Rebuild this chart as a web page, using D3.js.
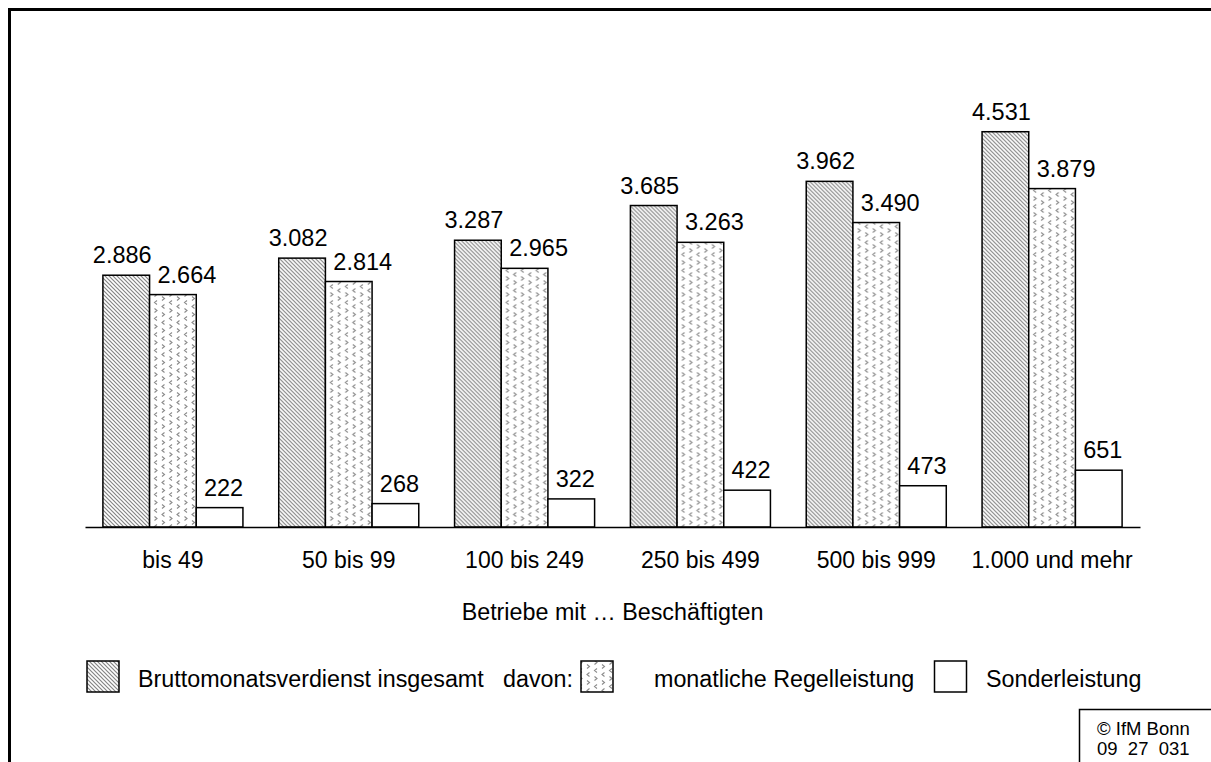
<!DOCTYPE html>
<html>
<head>
<meta charset="utf-8">
<script src="https://cdn.jsdelivr.net/npm/d3@7"></script>
<style>
  html, body { margin: 0; padding: 0; background: #fff; overflow: hidden; }
  svg { display: block; }
  text { font-family: Arial, "Liberation Sans", sans-serif; fill: #000; }
</style>
</head>
<body>
<script>
// ---- data ----
const categories = ["bis 49", "50 bis 99", "100 bis 249", "250 bis 499", "500 bis 999", "1.000 und mehr"];
const seriesNames = ["Bruttomonatsverdienst insgesamt", "monatliche Regelleistung", "Sonderleistung"];
const brutto = [2886, 3082, 3287, 3685, 3962, 4531];
const regel  = [2664, 2814, 2965, 3263, 3490, 3879];
const sonder = [222, 268, 322, 422, 473, 651];
const xTitle = "Betriebe mit \u2026 Beschäftigten";
const legendMid = "davon:";
const creditLines = ["© IfM Bonn", "09  27  031"];

// ---- setup ----
const W = 1211, H = 762;
const svg = d3.select("body").append("svg").attr("width", W).attr("height", H);
const defs = svg.append("defs");

// hatch pattern
const hatch = defs.append("pattern").attr("id", "hatch").attr("patternUnits", "userSpaceOnUse")
  .attr("width", 4).attr("height", 4);
hatch.append("rect").attr("width", 4).attr("height", 4).attr("fill", "#fff");
hatch.append("path").attr("d", "M-1,-1 L5,5 M-1,3 L1,5 M3,-1 L5,1")
  .attr("stroke", "#858585").attr("stroke-width", 1.2);

// chevron pattern
const conf = defs.append("pattern").attr("id", "conf").attr("patternUnits", "userSpaceOnUse")
  .attr("width", 15).attr("height", 16);
conf.append("rect").attr("width", 15).attr("height", 16).attr("fill", "#fff");
const cg = conf.append("g").attr("fill", "none").attr("stroke", "#8a8a8a").attr("stroke-width", 1.1);
cg.append("path").attr("d", "M4.5,0.5 L2,2.5 L4.5,4.5");       // <
cg.append("path").attr("d", "M9.5,4.5 L12,6.5 L9.5,8.5");      // >
cg.append("path").attr("d", "M2,8.5 L4.5,10.5 L2,12.5");       // >
cg.append("path").attr("d", "M12,12.5 L9.5,14.5 L12,16.5");    // <
cg.append("path").attr("d", "M12,-3.5 L9.5,-1.5 L12,0.5");     // wrap

const fills = ["url(#hatch)", "url(#conf)", "#fff"];

// outer frame
svg.append("rect").attr("x", 9.5).attr("y", 9.5).attr("width", 1400).attr("height", 1000)
  .attr("fill", "none").attr("stroke", "#000").attr("stroke-width", 3);

// scales
const x0 = d3.scaleBand().domain(categories).range([85, 1140]).paddingInner(0).paddingOuter(0);
const inset = 17.9;
const x1 = d3.scaleBand().domain(d3.range(3)).range([inset, x0.bandwidth() - inset]).padding(0);
const y = d3.scaleLinear().domain([0, 5000]).range([527, 527 - 5000 * 0.08724]);

const de = d3.formatLocale({ decimal: ",", thousands: ".", grouping: [3], currency: ["", "€"] });
const fmt = de.format(",d");

const seriesVals = [brutto, regel, sonder];
const labelDx = [-4, 14, 4];

const data = categories.map((c, i) => ({ cat: c, vals: seriesVals.map(s => s[i]) }));

const groups = svg.append("g").selectAll("g").data(data).join("g")
  .attr("transform", d => `translate(${x0(d.cat)},0)`);

groups.selectAll("rect").data(d => d.vals.map((v, k) => ({ v, k }))).join("rect")
  .attr("x", d => x1(d.k))
  .attr("y", d => y(d.v))
  .attr("width", x1.bandwidth())
  .attr("height", d => y(0) - y(d.v))
  .attr("fill", d => fills[d.k])
  .attr("stroke", "#000").attr("stroke-width", 1.5);

groups.selectAll("text.val").data(d => d.vals.map((v, k) => ({ v, k }))).join("text")
  .attr("class", "val")
  .attr("x", d => x1(d.k) + x1.bandwidth() / 2 + labelDx[d.k])
  .attr("y", d => y(d.v) - 12)
  .attr("text-anchor", "middle")
  .attr("font-size", 23.5)
  .text(d => fmt(d.v));

// x axis
const axis = svg.append("g").attr("transform", `translate(0,${y(0)})`)
  .call(d3.axisBottom(x0).tickSize(0).tickSizeOuter(0));
axis.select(".domain").attr("stroke", "#000").attr("stroke-width", 1.5);
axis.selectAll(".tick text").attr("y", 41).attr("dy", null)
  .attr("font-size", 23).attr("font-family", "Arial, 'Liberation Sans', sans-serif").attr("fill", "#000");

svg.append("text").attr("x", (85 + 1140) / 2).attr("y", 620).attr("text-anchor", "middle")
  .attr("font-size", 23.3).text(xTitle);

// legend
const lg = svg.append("g");
const sw = [
  { x: 87, fill: fills[0] },
  { x: 581, fill: fills[1] },
  { x: 934.5, fill: fills[2] }
];
lg.selectAll("rect").data(sw).join("rect")
  .attr("x", d => d.x).attr("y", 661).attr("width", 32).attr("height", 31)
  .attr("fill", d => d.fill).attr("stroke", "#000").attr("stroke-width", 1.5);
const lt = [
  { x: 138, t: seriesNames[0] },
  { x: 503, t: legendMid },
  { x: 654, t: seriesNames[1] },
  { x: 986, t: seriesNames[2] }
];
lg.selectAll("text").data(lt).join("text")
  .attr("x", d => d.x).attr("y", 687).attr("font-size", 23.3).text(d => d.t);

// credit box
svg.append("rect").attr("x", 1079.5).attr("y", 709.5).attr("width", 140).attr("height", 100)
  .attr("fill", "#fff").attr("stroke", "#000").attr("stroke-width", 1.5);
svg.selectAll("text.cr").data(creditLines).join("text").attr("class", "cr")
  .attr("x", 1097).attr("y", (d, i) => 735 + i * 20)
  .attr("font-size", 18.5).style("white-space", "pre").text(d => d);
</script>
</body>
</html>
